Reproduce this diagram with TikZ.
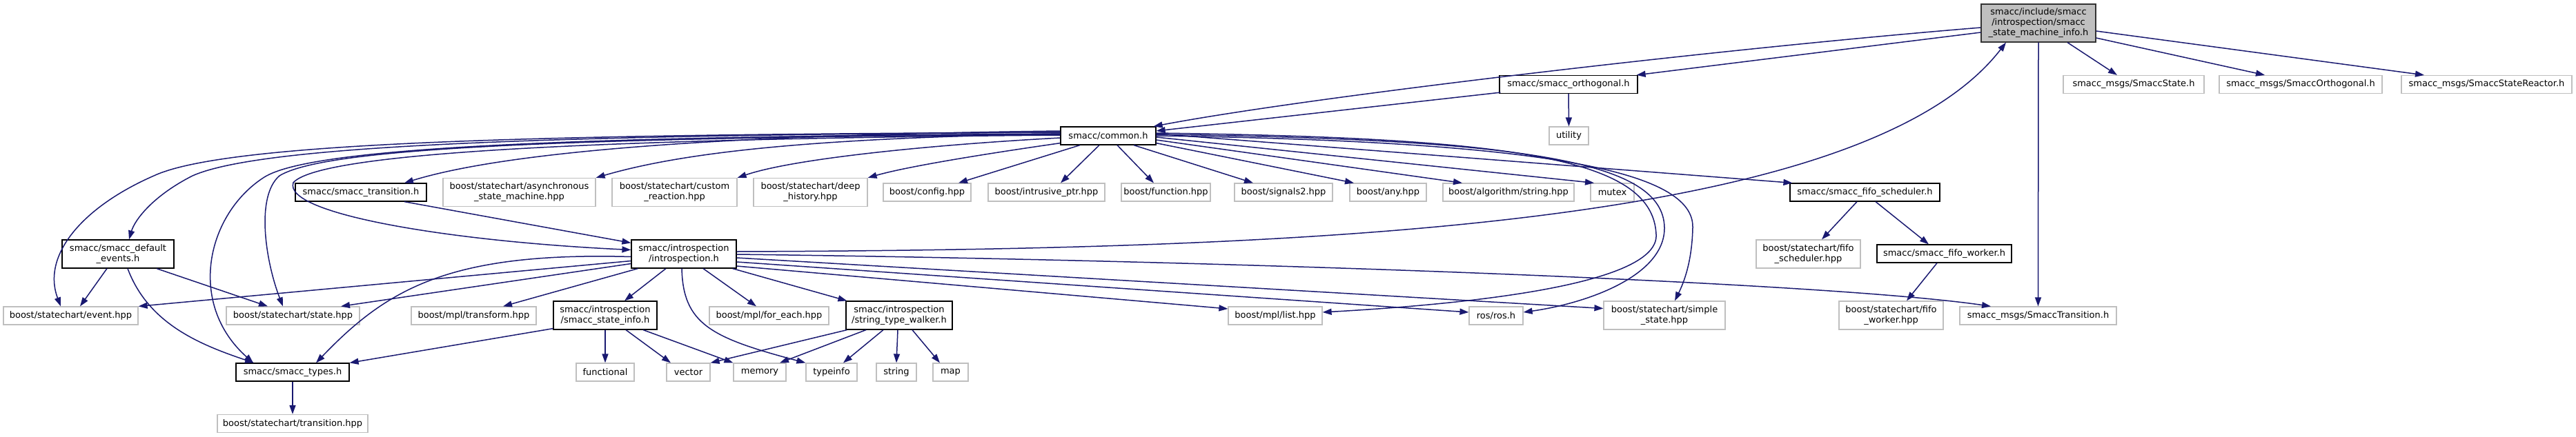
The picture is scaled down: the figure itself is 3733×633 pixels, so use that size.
\documentclass[tikz,border=0pt]{standalone}
\usepackage{fontspec}
\setmainfont{DejaVu Sans}
\usetikzlibrary{arrows.meta,calc}
\definecolor{edgeblue}{HTML}{191970}
\definecolor{extgray}{HTML}{BFBFBF}
\definecolor{rootgray}{HTML}{BFBFBF}
\tikzset{
  nbase/.style={rectangle, inner sep=0pt, align=center, font=\fontsize{6.5pt}{7.5pt}\selectfont, line width=0.6pt, fill=white},
  docn/.style={nbase, draw=black},
  extn/.style={nbase, draw=extgray},
  rootn/.style={nbase, draw=black!80, fill=rootgray},
  dep/.style={draw=edgeblue, line width=0.75pt, -{Triangle[length=6.5pt,width=4.5pt]}},
  one/.style={minimum height=13pt},
  two/.style={minimum height=20.5pt},
}
\begin{document}
\begin{tikzpicture}[x=0.5pt,y=-0.5pt]
\useasboundingbox (0,0) rectangle (3733,633);
% nodes
\node[rootn, minimum width=83pt, minimum height=27.5pt] (root) at (2954,33.5) {smacc/include/smacc\\/introspection/smacc\\\_state\_machine\_info.h};
\node[docn, one, minimum width=100pt] (orth) at (2273,122.5) {smacc/smacc\_orthogonal.h};
\node[extn, one, minimum width=102pt] (mstate) at (3092,122.5) {smacc\_msgs/SmaccState.h};
\node[extn, one, minimum width=118pt] (morth) at (3334,122.5) {smacc\_msgs/SmaccOrthogonal.h};
\node[extn, one, minimum width=123.5pt] (mreact) at (3603.5,122.5) {smacc\_msgs/SmaccStateReactor.h};
\node[docn, one, minimum width=69pt] (common) at (1606,197) {smacc/common.h};
\node[extn, one, minimum width=28.5pt] (utility) at (2273.5,197) {utility};
\node[docn, one, minimum width=95pt] (trans) at (523,279) {smacc/smacc\_transition.h};
\node[extn, two, minimum width=110.5pt] (async) at (752.5,279) {boost/statechart/asynchronous\\\_state\_machine.hpp};
\node[extn, two, minimum width=90.5pt] (custom) at (977.5,279) {boost/statechart/custom\\\_reaction.hpp};
\node[extn, two, minimum width=82.5pt] (deep) at (1174.5,279) {boost/statechart/deep\\\_history.hpp};
\node[extn, one, minimum width=63.5pt] (config) at (1343.5,279) {boost/config.hpp};
\node[extn, one, minimum width=84.5pt] (intr) at (1516.5,279) {boost/intrusive\_ptr.hpp};
\node[extn, one, minimum width=64.5pt] (func) at (1689.5,279) {boost/function.hpp};
\node[extn, one, minimum width=71pt] (sig) at (1860,279) {boost/signals2.hpp};
\node[extn, one, minimum width=55.5pt] (any) at (2011.5,279) {boost/any.hpp};
\node[extn, one, minimum width=95pt] (algo) at (2186,279) {boost/algorithm/string.hpp};
\node[extn, one, minimum width=31.5pt] (mutex) at (2336.5,279) {mutex};
\node[docn, one, minimum width=108.5pt] (fifosch) at (2702.5,279) {smacc/smacc\_fifo\_scheduler.h};
\node[docn, two, minimum width=81pt] (defev) at (171,368.5) {smacc/smacc\_default\\\_events.h};
\node[docn, two, minimum width=76pt] (intro) at (991,368.5) {smacc/introspection\\/introspection.h};
\node[extn, two, minimum width=75.5pt] (fifoschhpp) at (2620.5,368.5) {boost/statechart/fifo\\\_scheduler.hpp};
\node[docn, one, minimum width=97.5pt] (fifowork) at (2817.5,368) {smacc/smacc\_fifo\_worker.h};
\node[extn, one, minimum width=97.5pt] (event) at (102.5,458) {boost/statechart/event.hpp};
\node[extn, one, minimum width=96.5pt] (state) at (424.5,458) {boost/statechart/state.hpp};
\node[extn, one, minimum width=90.5pt] (transform) at (686.5,458) {boost/mpl/transform.hpp};
\node[docn, two, minimum width=75pt] (sinfo) at (877,457.5) {smacc/introspection\\/smacc\_state\_info.h};
\node[extn, one, minimum width=86.5pt] (foreach) at (1114.5,458) {boost/mpl/for\_each.hpp};
\node[docn, two, minimum width=77pt] (walker) at (1303,457.5) {smacc/introspection\\/string\_type\_walker.h};
\node[extn, one, minimum width=68pt] (list) at (1848,458) {boost/mpl/list.hpp};
\node[extn, one, minimum width=39pt] (ros) at (2168,458) {ros/ros.h};
\node[extn, two, minimum width=88pt] (simple) at (2412,457.5) {boost/statechart/simple\\\_state.hpp};
\node[extn, two, minimum width=75.5pt] (fifowhpp) at (2740.5,457.5) {boost/statechart/fifo\\\_worker.hpp};
\node[extn, one, minimum width=113.5pt] (mtrans) at (2953.5,458) {smacc\_msgs/SmaccTransition.h};
\node[docn, one, minimum width=82pt] (types) at (424,540) {smacc/smacc\_types.h};
\node[extn, one, minimum width=42pt] (functional) at (877,540) {functional};
\node[extn, one, minimum width=31.5pt] (vector) at (997.5,540) {vector};
\node[extn, one, minimum width=38pt] (memory) at (1101,540) {memory};
\node[extn, one, minimum width=37pt] (typeinfo) at (1205,540) {typeinfo};
\node[extn, one, minimum width=29pt] (string) at (1299,540) {string};
\node[extn, one, minimum width=25.5pt] (map) at (1377.5,540) {map};
\node[extn, one, minimum width=109pt] (transhpp) at (424,614.5) {boost/statechart/transition.hpp};
% edges from root
\draw[dep] ($(root.west)+(0,13.5)$) -- ($(orth.north east)+(-2,0)$);
\draw[dep] ($(root.west)+(0,6.5)$) .. controls (2500,70) and (1900,140) .. ($(common.north east)+(-4,0)$);
\draw[dep] ($(root.south)+(42,0)$) -- ($(mstate.north)+(-24,0)$);
\draw[dep] ($(root.east)+(0,21.5)$) -- ($(morth.north)+(-52,0)$);
\draw[dep] ($(root.east)+(0,11.5)$) -- ($(mreact.north)+(-90.5,0)$);
\draw[dep] (root.south) -- (mtrans.north);
\draw[dep] ($(intro.east)+(0,-3.5)$) .. controls (1900,362) and (2700,330) .. ($(root.south)+(-47,0)$);
% orthogonal
\draw[dep] ($(orth.south west)+(2,-2)$) -- ($(common.east)+(0,-7)$);
\draw[dep] (orth.south) -- (utility.north);
% common.h
\draw[dep] ($(common.south)+(-41,0)$) -- ($(config.north)+(45.5,0)$);
\draw[dep] ($(common.south)+(-13,0)$) -- ($(intr.north)+(20.5,0)$);
\draw[dep] ($(common.south)+(13,0)$) -- ($(func.north)+(-17.5,0)$);
\draw[dep] ($(common.south)+(37,0)$) -- ($(sig.north)+(-44,0)$);
\draw[dep] ($(common.south east)+(0,-3)$) -- ($(any.north)+(-49.5,0)$);
\draw[dep] ($(common.east)+(0,6)$) -- ($(algo.north)+(-67,0)$);
\draw[dep] ($(common.east)+(0,2)$) -- ($(mutex.north)+(-26.5,0)$);
\draw[dep] ($(common.east)+(0,-3)$) -- ($(fifosch.north west)+(4,0)$);
\draw[dep] ($(common.east)+(0,-4)$) .. controls (2200,200) and (2395,230) .. (2400,340) .. controls (2405,410) and (2150,440) .. ($(list.east)+(0,-5)$);
\draw[dep] ($(common.east)+(0,-2)$) .. controls (2220,202) and (2410,235) .. (2412,330) .. controls (2413,400) and (2300,440) .. ($(ros.east)+(0,-5)$);
\draw[dep] (common.east) .. controls (2250,205) and (2455,250) .. (2453,330) .. controls (2452,380) and (2440,410) .. ($(simple.north)+(15,0)$);
\draw[dep] ($(common.west)+(0,-7)$) .. controls (1100,195) and (750,215) .. ($(trans.north)+(63,0)$);
\draw[dep] ($(common.west)+(0,-3)$) .. controls (1200,200) and (1000,218) .. (async.north east);
\draw[dep] ($(common.west)+(0,3)$) .. controls (1350,210) and (1150,230) .. (custom.north east);
\draw[dep] ($(common.south west)+(0,-3)$) .. controls (1450,220) and (1320,240) .. (deep.north east);
\draw[dep] ($(common.west)+(0,-5)$) .. controls (800,195) and (330,205) .. (223,255) .. controls (120,300) and (60,370) .. ($(event.north)+(-14.5,0)$);
\draw[dep] ($(common.west)+(0,-5)$) .. controls (800,196) and (380,210) .. (279,255) .. controls (220,285) and (195,320) .. ($(defev.north)+(16,0)$);
\draw[dep] ($(common.west)+(0,-3)$) .. controls (800,198) and (450,215) .. (383,257) .. controls (300,310) and (270,440) .. ($(types.north)+(-57,0)$);
\draw[dep] ($(common.west)+(0,-2)$) .. controls (800,200) and (470,215) .. (405,255) .. controls (370,285) and (385,380) .. ($(state.north)+(-14.5,0)$);
\draw[dep] ($(common.west)+(0,-1)$) .. controls (800,202) and (460,225) .. (425,265) .. controls (410,310) and (650,350) .. ($(intro.west)+(0,-6)$);
% smacc_transition
\draw[dep] ($(trans.south)+(63,0)$) -- ($(intro.north west)+(0,5)$);
% introspection
\draw[dep] ($(intro.west)+(0,10)$) -- (event.north east);
\draw[dep] ($(intro.west)+(0,14)$) -- ($(state.north)+(69.5,0)$);
\draw[dep] ($(intro.west)+(0,4)$) .. controls (650,365) and (560,420) .. ($(types.north)+(34,0)$);
\draw[dep] ($(intro.south west)+(10,0)$) -- ($(transform.north)+(42.5,0)$);
\draw[dep] ($(intro.south)+(-26,0)$) -- ($(sinfo.north)+(28,0)$);
\draw[dep] ($(intro.south)+(-3,0)$) .. controls (990,470) and (1030,490) .. (typeinfo.north west);
\draw[dep] ($(intro.south)+(28,0)$) -- ($(foreach.north)+(-18.5,0)$);
\draw[dep] ($(intro.south east)+(-6,0)$) -- ($(walker.north west)+(2,0)$);
\draw[dep] ($(intro.east)+(0,17.5)$) -- ($(list.west)+(0,-10)$);
\draw[dep] ($(intro.east)+(0,11.5)$) -- ($(ros.west)+(0,-5)$);
\draw[dep] ($(intro.east)+(0,5.5)$) -- ($(simple.west)+(0,-10)$);
\draw[dep] ($(intro.east)+(0,0.5)$) .. controls (1800,378) and (2650,410) .. ($(mtrans.north)+(-68.5,0)$);
% default events
\draw[dep] ($(defev.south)+(-16,0)$) -- ($(event.north)+(13.5,0)$);
\draw[dep] ($(defev.south)+(14,0)$) .. controls (215,470) and (290,500) .. ($(types.north)+(-56,0)$);
\draw[dep] ($(defev.south)+(56,0)$) -- ($(state.north)+(-36.5,0)$);
% state info
\draw[dep] ($(sinfo.south west)+(0,-2)$) -- (types.north east);
\draw[dep] (sinfo.south) -- (functional.north);
\draw[dep] ($(sinfo.south)+(30,0)$) -- ($(vector.north)+(-25.5,0)$);
\draw[dep] ($(sinfo.south)+(55,0)$) -- (memory.north west);
% string type walker
\draw[dep] ($(walker.south west)+(2,0)$) -- (vector.north east);
\draw[dep] ($(walker.south)+(-48,0)$) -- ($(memory.north)+(29,0)$);
\draw[dep] ($(walker.south)+(-23,0)$) -- ($(typeinfo.north)+(17,0)$);
\draw[dep] ($(walker.south)+(-2,0)$) -- (string.north);
\draw[dep] ($(walker.south)+(19,0)$) -- ($(map.north)+(-15.5,0)$);
% types
\draw[dep] (types.south) -- (transhpp.north);
% fifo
\draw[dep] ($(fifosch.south)+(-11.5,0)$) -- ($(fifoschhpp.north)+(19.5,0)$);
\draw[dep] ($(fifosch.south)+(15.5,0)$) -- ($(fifowork.north)+(-22.5,0)$);
\draw[dep] ($(fifowork.south)+(-10.5,0)$) -- ($(fifowhpp.north)+(22.5,0)$);
\end{tikzpicture}
\end{document}
